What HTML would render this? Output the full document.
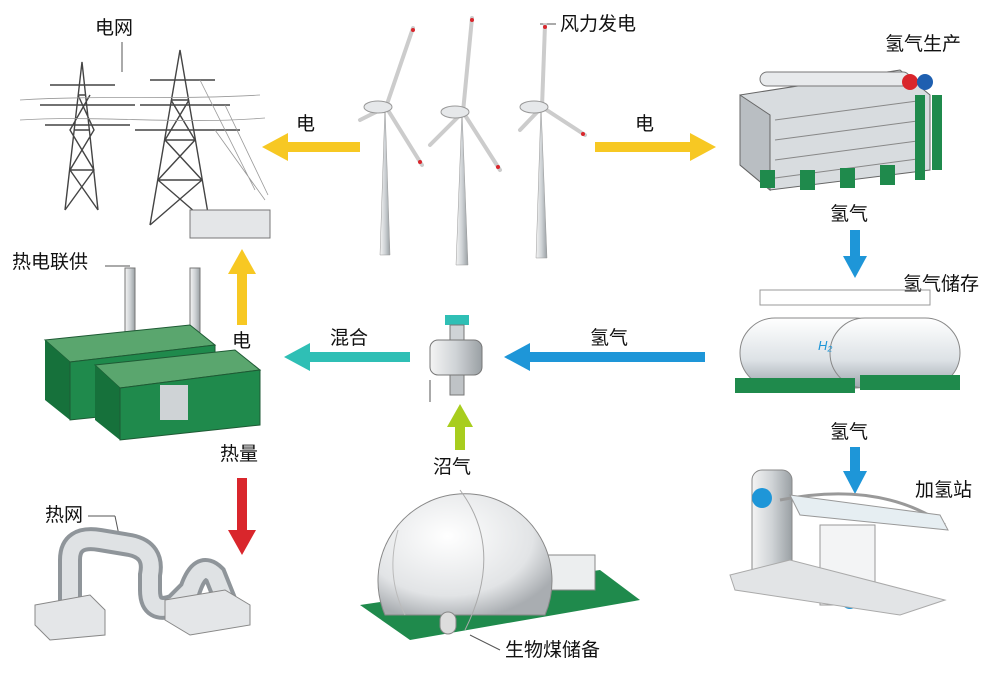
<!DOCTYPE html>
<html><head><meta charset="utf-8"><style>
html,body{margin:0;padding:0;background:#fff;}
svg text{font-family:"Liberation Sans","Noto Sans CJK SC",sans-serif;font-size:19px;fill:#111;}
</style></head><body>
<svg width="1000" height="674" viewBox="0 0 1000 674" xmlns="http://www.w3.org/2000/svg">
<defs>
<linearGradient id="metal" x1="0" x2="1"><stop offset="0" stop-color="#f4f4f4"/><stop offset="0.5" stop-color="#cfd3d6"/><stop offset="1" stop-color="#9aa0a4"/></linearGradient>
<linearGradient id="tank" x1="0" y1="0" x2="0" y2="1"><stop offset="0" stop-color="#fff"/><stop offset="0.6" stop-color="#dde2e6"/><stop offset="1" stop-color="#9ea6ad"/></linearGradient>
<radialGradient id="dome" cx="0.4" cy="0.35" r="0.7"><stop offset="0" stop-color="#fff"/><stop offset="0.7" stop-color="#e2e4e6"/><stop offset="1" stop-color="#a9adb1"/></radialGradient>
</defs>

<text x="95" y="34">电网</text>
<line x1="122" y1="42" x2="122" y2="72" stroke="#555"/>
<text x="560" y="30">风力发电</text>
<line x1="556" y1="24" x2="540" y2="24" stroke="#555"/>
<text x="885" y="50">氢气生产</text>
<text x="296" y="130">电</text>
<text x="635" y="130">电</text>
<text x="830" y="220">氢气</text>
<text x="903" y="290">氢气储存</text>
<text x="830" y="438">氢气</text>
<text x="915" y="496">加氢站</text>
<text x="590" y="344">氢气</text>
<text x="330" y="344">混合</text>
<text x="232" y="347">电</text>
<text x="12" y="268">热电联供</text>
<line x1="105" y1="266" x2="130" y2="266" stroke="#555"/>
<text x="220" y="460">热量</text>
<text x="45" y="521">热网</text>
<line x1="88" y1="516" x2="115" y2="516" stroke="#555"/>
<line x1="115" y1="516" x2="120" y2="540" stroke="#555"/>
<text x="433" y="473">沼气</text>
<text x="505" y="656">生物煤储备</text>
<line x1="500" y1="650" x2="470" y2="635" stroke="#555"/>

<g>
<rect x="285" y="142" width="75" height="10" fill="#f7c823"/><polygon points="262,147 288,133 288,161" fill="#f7c823"/>
<rect x="595" y="142" width="97" height="10" fill="#f7c823"/><polygon points="716,147 690,133 690,161" fill="#f7c823"/>
<rect x="850" y="230" width="10" height="28" fill="#1e96d8"/><polygon points="855,278 843,256 867,256" fill="#1e96d8"/>
<rect x="850" y="447" width="10" height="26" fill="#1e96d8"/><polygon points="855,494 843,471 867,471" fill="#1e96d8"/>
<rect x="528" y="352" width="177" height="10" fill="#1e96d8"/><polygon points="504,357 530,343 530,371" fill="#1e96d8"/>
<rect x="308" y="352" width="102" height="10" fill="#2fbfb5"/><polygon points="284,357 310,343 310,371" fill="#2fbfb5"/>
<rect x="237" y="272" width="10" height="53" fill="#f7c823"/><polygon points="242,249 228,274 256,274" fill="#f7c823"/>
<rect x="237" y="478" width="10" height="54" fill="#d9262c"/><polygon points="242,555 228,530 256,530" fill="#d9262c"/>
<rect x="455" y="425" width="10" height="25" fill="#a8cd1e"/><polygon points="460,404 447,427 473,427" fill="#a8cd1e"/>
</g>

<g stroke="#444" stroke-width="1.4" fill="none">
<path d="M65,210 L82,62 L98,210 M70,170 L94,170 M74,130 L90,130 M78,95 L86,95 M65,210 L94,170 L70,130 L90,95 M98,210 L70,170 L94,130 L78,95"/>
<path d="M40,105 L135,105 M45,125 L130,125 M50,85 L115,85"/>
<path d="M150,225 L180,50 L210,225 M158,180 L202,180 M165,140 L195,140 M171,100 L189,100 M150,225 L202,180 L165,140 L189,100 M210,225 L158,180 L195,140 L171,100"/>
<path d="M140,105 L230,105 M135,130 L240,130 M150,80 L215,80"/>
<path d="M20,100 C100,95 180,100 260,95 M20,120 C100,115 180,125 265,118 M215,130 L265,200 M225,105 L268,195 M200,80 L255,190" stroke="#999" stroke-width="0.8"/>
</g>
<rect x="190" y="210" width="80" height="28" fill="#e4e6e8" stroke="#777"/>

<g>
<polygon points="380,255 385,105 390,255" fill="url(#metal)" stroke="#999" stroke-width="0.5"/>
<polygon points="456,265 462,110 468,265" fill="url(#metal)" stroke="#999" stroke-width="0.5"/>
<polygon points="536,258 541,105 547,258" fill="url(#metal)" stroke="#999" stroke-width="0.5"/>
<g stroke="#ccc" stroke-width="4" stroke-linecap="round">
<line x1="386" y1="107" x2="413" y2="28"/><line x1="386" y1="107" x2="422" y2="165"/><line x1="386" y1="107" x2="360" y2="120"/>
<line x1="463" y1="112" x2="472" y2="18"/><line x1="463" y1="112" x2="500" y2="170"/><line x1="463" y1="112" x2="430" y2="145"/>
<line x1="542" y1="107" x2="545" y2="25"/><line x1="542" y1="107" x2="585" y2="135"/><line x1="542" y1="107" x2="520" y2="130"/>
</g>
<g fill="#d9262c"><circle cx="413" cy="30" r="2"/><circle cx="420" cy="162" r="2"/><circle cx="472" cy="20" r="2"/><circle cx="498" cy="167" r="2"/><circle cx="545" cy="27" r="2"/><circle cx="583" cy="134" r="2"/></g>
<ellipse cx="378" cy="107" rx="14" ry="6" fill="#e6e8ea" stroke="#999"/>
<ellipse cx="455" cy="112" rx="14" ry="6" fill="#e6e8ea" stroke="#999"/>
<ellipse cx="534" cy="107" rx="14" ry="6" fill="#e6e8ea" stroke="#999"/>
</g>

<g>
<polygon points="740,95 900,70 930,95 930,170 770,190 740,165" fill="#d8dcdf" stroke="#666"/>
<polygon points="740,95 770,115 770,190 740,165" fill="#b9bec2" stroke="#666"/>
<g stroke="#888"><line x1="775" y1="120" x2="925" y2="100"/><line x1="775" y1="140" x2="925" y2="120"/><line x1="775" y1="160" x2="925" y2="140"/><line x1="775" y1="178" x2="925" y2="158"/></g>
<rect x="760" y="72" width="150" height="14" rx="7" fill="#e8eaec" stroke="#777"/>
<circle cx="910" cy="82" r="8" fill="#d9262c"/><circle cx="925" cy="82" r="8" fill="#1e5fb0"/>
<g fill="#1f8a4c"><rect x="915" y="95" width="10" height="85"/><rect x="932" y="95" width="10" height="75"/><rect x="760" y="170" width="15" height="18"/><rect x="800" y="170" width="15" height="20"/><rect x="840" y="168" width="15" height="20"/><rect x="880" y="165" width="15" height="20"/></g>
</g>

<g>
<rect x="760" y="290" width="170" height="15" fill="none" stroke="#999"/>
<rect x="740" y="318" width="150" height="70" rx="35" fill="url(#tank)" stroke="#888"/>
<rect x="830" y="318" width="130" height="70" rx="35" fill="url(#tank)" stroke="#888"/>
<text x="818" y="350" style="font-size:13px;fill:#1e96d8;font-style:italic">H₂</text>
<rect x="735" y="378" width="120" height="15" fill="#1f8a4c"/><rect x="860" y="375" width="100" height="15" fill="#1f8a4c"/>
</g>

<g>
<rect x="752" y="470" width="40" height="120" rx="10" fill="url(#metal)" stroke="#888"/>
<circle cx="762" cy="498" r="10" fill="#1e96d8"/>
<path d="M780,500 Q880,480 945,525" fill="none" stroke="#999" stroke-width="3"/>
<polygon points="790,495 940,515 948,530 800,515" fill="#e6eef2" stroke="#999"/>
<rect x="820" y="525" width="55" height="80" fill="#f3f4f5" stroke="#999"/>
<circle cx="850" cy="600" r="9" fill="#1e96d8"/>
<polygon points="730,575 790,560 945,600 900,615 735,590" fill="#e2e4e6" stroke="#aaa"/>
</g>

<g>
<rect x="445" y="315" width="24" height="10" fill="#2fbfb5"/>
<rect x="450" y="325" width="14" height="15" fill="#cfd3d6" stroke="#777"/>
<rect x="430" y="340" width="52" height="35" rx="8" fill="url(#metal)" stroke="#777"/>
<rect x="450" y="375" width="14" height="20" fill="#bfc3c6" stroke="#777"/>
<line x1="430" y1="402" x2="430" y2="380" stroke="#555"/>
</g>

<g>
<rect x="125" y="268" width="10" height="70" fill="url(#metal)" stroke="#777"/>
<rect x="190" y="268" width="10" height="75" fill="url(#metal)" stroke="#777"/>
<polygon points="45,340 190,325 215,345 70,362" fill="#5aa66e" stroke="#1e5a34"/>
<polygon points="45,340 70,362 70,420 45,400" fill="#16713b"/>
<polygon points="70,362 215,345 215,405 70,420" fill="#1f8a4c" stroke="#1e5a34"/>
<polygon points="95,365 235,350 260,370 120,388" fill="#5aa66e" stroke="#1e5a34"/>
<polygon points="95,365 120,388 120,440 95,420" fill="#16713b"/>
<polygon points="120,388 260,370 260,425 120,440" fill="#1f8a4c" stroke="#1e5a34"/>
<rect x="160" y="385" width="28" height="35" fill="#cfd3d6"/>
</g>

<g fill="none" stroke-linecap="round">
<path d="M70,600 L70,560 Q70,535 100,540 L130,545 Q155,550 150,575 L150,590 Q150,615 175,605 L190,590 Q200,560 215,575 L225,600" stroke="#8f959a" stroke-width="24"/>
<path d="M70,600 L70,560 Q70,535 100,540 L130,545 Q155,550 150,575 L150,590 Q150,615 175,605 L190,590 Q200,560 215,575 L225,600" stroke="#dfe2e4" stroke-width="16"/>
</g>
<g fill="#e4e6e8" stroke="#888">
<polygon points="35,605 90,595 105,610 105,635 50,640 35,625"/>
<polygon points="165,600 225,590 250,605 250,625 190,635 165,620"/>
</g>

<polygon points="360,605 600,570 640,600 410,640" fill="#1f8a4c"/>
<rect x="545" y="555" width="50" height="35" fill="#eceeef" stroke="#888"/>
<path d="M385,615 A87,87 0 1 1 545,615 Z" fill="url(#dome)" stroke="#888"/>
<path d="M460,490 Q505,550 465,630" fill="none" stroke="#aaa"/>
<path d="M398,530 Q385,575 405,615" fill="none" stroke="#bbb"/>
<rect x="440" y="612" width="16" height="22" rx="8" fill="#ddd" stroke="#888"/>
</svg>
</body></html>
